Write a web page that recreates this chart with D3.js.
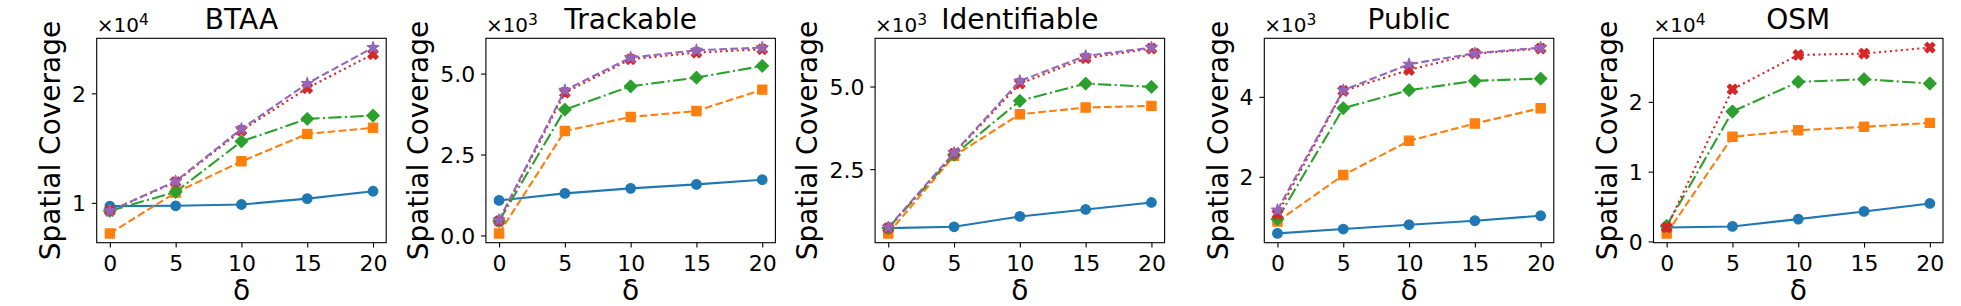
<!DOCTYPE html>
<html>
<head>
<meta charset="utf-8">
<script src="https://cdn.jsdelivr.net/npm/d3@7"></script>
<style>
  body { margin: 0; background: #fff; }
  text { font-family: "DejaVu Sans", sans-serif; fill: #000; }
</style>
</head>
<body>
<script>
// x values shared by every panel
const deltas = [0, 5, 10, 15, 20];
const datasets = ['BTAA', 'Trackable', 'Identifiable', 'Public', 'OSM'];
const exponents = [4, 3, 3, 3, 4];
const yTickValues = [[1, 2], [0, 2.5, 5], [2.5, 5], [2, 4], [0, 1, 2]];
const yTickLabels = [['1', '2'], ['0.0', '2.5', '5.0'], ['2.5', '5.0'], ['2', '4'], ['0', '1', '2']];

// values are in units of 10^exponent, one row per dataset
const circleVals = [
    [0.970, 0.973, 0.985, 1.039, 1.106],
    [1.082, 1.299, 1.454, 1.577, 1.722],
    [0.716, 0.756, 1.069, 1.280, 1.492],
    [0.583, 0.692, 0.800, 0.900, 1.025],
    [0.200, 0.215, 0.320, 0.430, 0.544],
];
const squareVals = [
    [0.721, 1.094, 1.379, 1.630, 1.685],
    [0.062, 3.227, 3.660, 3.845, 4.505],
    [0.555, 2.903, 4.163, 4.365, 4.415],
    [0.883, 2.042, 2.900, 3.333, 3.717],
    [0.115, 1.499, 1.594, 1.642, 1.699],
];
const diamondVals = [
    [0.927, 1.100, 1.561, 1.767, 1.797],
    [0.443, 3.887, 4.608, 4.876, 5.237],
    [0.716, 2.933, 4.567, 5.090, 4.990],
    [0.942, 3.717, 4.167, 4.400, 4.458],
    [0.224, 1.862, 2.286, 2.325, 2.263],
];
const crossVals = [
    [0.927, 1.190, 1.661, 2.048, 2.358],
    [0.443, 4.412, 5.443, 5.649, 5.753],
    [0.716, 2.974, 5.090, 5.857, 6.149],
    [1.067, 4.150, 4.675, 5.083, 5.208],
    [0.200, 2.181, 2.673, 2.692, 2.778],
];
const starVals = [
    [0.927, 1.197, 1.676, 2.090, 2.418],
    [0.474, 4.485, 5.495, 5.722, 5.804],
    [0.736, 2.994, 5.171, 5.927, 6.179],
    [1.167, 4.167, 4.817, 5.092, 5.233],
    null,
];

const series = [
    {vals: circleVals, color: '#1f77b4', dash: null, symbol: d3.symbolCircle, size: 72, rot: 0},
    {vals: squareVals, color: '#ff7f0e', dash: '7.7,3.3', symbol: d3.symbolSquare, size: 86, rot: 0},
    {vals: diamondVals, color: '#2ca02c', dash: '13.3,3.3,2.1,3.3', symbol: d3.symbolSquare, size: 78, rot: 45},
    {vals: crossVals, color: '#d62728', dash: '2.1,3.4', symbol: d3.symbolCross, size: 66, rot: 45},
    {vals: starVals, color: '#9467bd', dash: '7.7,3.3', symbol: d3.symbolStar, size: 42, rot: 0},
];

const width = 1961;
const height = 306;
const left0 = 96.7;
const step = 389.2;
const pw = 289.5;
const plotTop = 38.3;
const ph = 204.4;

const svg = d3.select('body')
    .append('svg')
    .attr('width', width)
    .attr('height', height);

datasets.forEach(function(name, i) {
    const left = left0 + i * step;
    const g = svg.append('g');

    const x = d3.scaleLinear().domain([-1, 21]).range([left, left + pw]);

    const all = [];
    series.forEach(s => { if (s.vals[i]) all.push(...s.vals[i]); });
    const lo = d3.min(all), hi = d3.max(all);
    const pad = (hi - lo) * 0.05;
    const y = d3.scaleLinear().domain([lo - pad, hi + pad]).range([plotTop + ph, plotTop]);

    // x axis
    const xa = g.append('g')
        .attr('transform', `translate(0, ${plotTop + ph})`)
        .call(d3.axisBottom(x).tickValues(deltas).tickSize(4.9).tickSizeOuter(0).tickPadding(7.8));
    xa.select('.domain').remove();
    xa.selectAll('line').attr('stroke', '#000').attr('stroke-width', 1.1);
    xa.selectAll('text').attr('font-size', 22).attr('font-family', 'DejaVu Sans');

    // y axis
    const ya = g.append('g')
        .attr('transform', `translate(${left}, 0)`)
        .call(d3.axisLeft(y).tickValues(yTickValues[i]).tickFormat((d, k) => yTickLabels[i][k])
            .tickSize(4.9).tickSizeOuter(0).tickPadding(5.8));
    ya.select('.domain').remove();
    ya.selectAll('line').attr('stroke', '#000').attr('stroke-width', 1.1);
    ya.selectAll('text').attr('font-size', 22).attr('font-family', 'DejaVu Sans').attr('dy', '0.36em');

    const bb = ya.node().getBBox();
    const labelX = left + bb.x - 12.1;

    g.append('text')
        .attr('transform', `translate(${labelX}, ${plotTop + ph / 2}) rotate(-90)`)
        .attr('text-anchor', 'middle')
        .attr('font-size', 28)
        .text('Spatial Coverage');

    // x label
    g.append('text')
        .attr('x', left + pw / 2)
        .attr('y', 299.5)
        .attr('text-anchor', 'middle')
        .attr('font-size', 28)
        .text('δ');

    // title
    g.append('text')
        .attr('x', left + pw / 2)
        .attr('y', 28.5)
        .attr('text-anchor', 'middle')
        .attr('font-size', 28)
        .text(name);

    // offset text
    const off = g.append('text')
        .attr('x', left)
        .attr('y', 32.3)
        .attr('font-size', 20);
    off.append('tspan').text('×10');
    off.append('tspan').attr('font-size', 15.5).attr('dy', -7.7).text(exponents[i]);

    // lines and markers
    series.forEach(function(s) {
        const vals = s.vals[i];
        if (!vals) return;
        const pts = deltas.map((d, k) => [d, vals[k]]);
        const line = d3.line().x(p => x(p[0])).y(p => y(p[1]));
        g.append('path')
            .attr('d', line(pts))
            .attr('fill', 'none')
            .attr('stroke', s.color)
            .attr('stroke-width', 2.1)
            .attr('stroke-dasharray', s.dash);
        const sym = d3.symbol().type(s.symbol).size(s.size);
        g.selectAll(null)
            .data(pts)
            .enter()
            .append('path')
            .attr('d', sym)
            .attr('transform', p => `translate(${x(p[0])}, ${y(p[1])}) rotate(${s.rot})`)
            .attr('fill', s.color)
            .attr('stroke', s.color)
            .attr('stroke-width', 1.2)
            .attr('stroke-linejoin', 'round');
    });

    // axes box
    g.append('rect')
        .attr('x', left)
        .attr('y', plotTop)
        .attr('width', pw)
        .attr('height', ph)
        .attr('fill', 'none')
        .attr('stroke', '#000')
        .attr('stroke-width', 1.1);
});
</script>
</body>
</html>
